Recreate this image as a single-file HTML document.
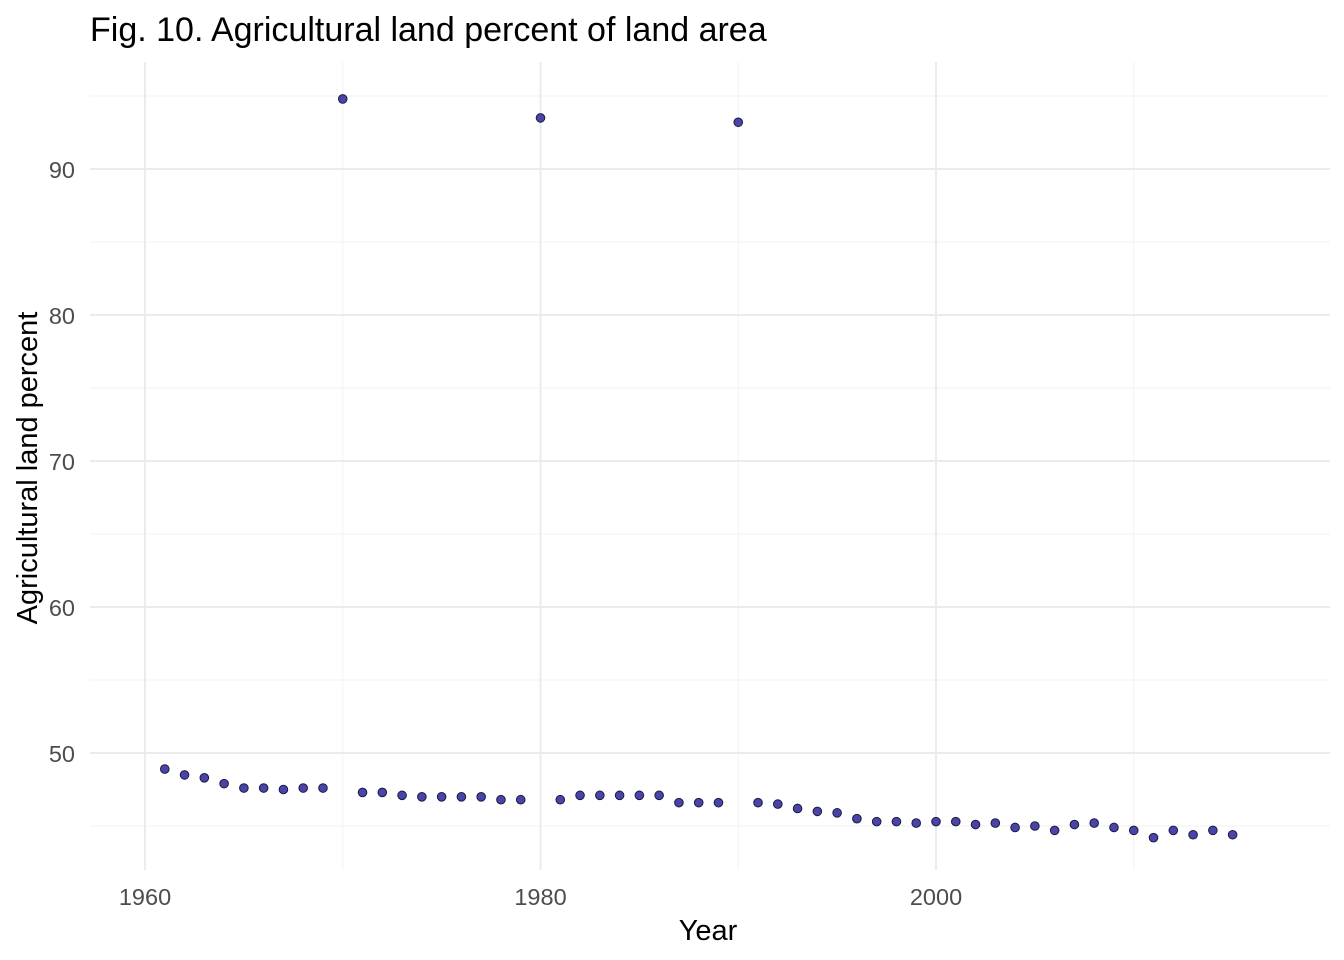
<!DOCTYPE html>
<html><head><meta charset="utf-8"><style>
body{margin:0;background:#fff;}
svg{display:block;font-family:"Liberation Sans",Arial,sans-serif;}
</style></head><body>
<svg id="chart" width="1344" height="960">
<text x="90" y="41" font-size="34" fill="#000">Fig. 10. Agricultural land percent of land area</text>
<g id="grid"></g>
<g id="ticks"></g>
<g id="points"></g>
<text x="708" y="940" font-size="29" text-anchor="middle" fill="#000">Year</text>
<text transform="translate(37,468) rotate(-90)" font-size="29" text-anchor="middle" fill="#000">Agricultural land percent</text>
</svg>
<script>
const years=[];for(let y=1961;y<=2015;y++)years.push(y);
const values=[48.9,48.5,48.3,47.9,47.6,47.6,47.5,47.6,47.6,94.8,
47.3,47.3,47.1,47.0,47.0,47.0,47.0,46.8,46.8,93.5,
46.8,47.1,47.1,47.1,47.1,47.1,46.6,46.6,46.6,93.2,
46.6,46.5,46.2,46.0,45.9,45.5,45.3,45.3,45.2,45.3,
45.3,45.1,45.2,44.9,45.0,44.7,45.1,45.2,44.9,44.7,
44.2,44.7,44.4,44.7,44.4];
const xTicks=[1960,1980,2000];
const xMinor=[1970,1990,2010];
const yTicks=[50,60,70,80,90];
const yMinor=[45,55,65,75,85,95];
const xs=v=>145+(v-1960)*(936-145)/40;
const ys=v=>753-(v-50)*(753-169)/40;
const NS="http://www.w3.org/2000/svg";
const L=90,R=1330,T=62,B=870;
function mk(tag,attrs,parent){const e=document.createElementNS(NS,tag);for(const k in attrs)e.setAttribute(k,attrs[k]);parent.appendChild(e);return e;}
const grid=document.getElementById('grid'),ticks=document.getElementById('ticks'),pts=document.getElementById('points');
yMinor.forEach(v=>{const e=mk('line',{x1:L,x2:R,y1:ys(v),y2:ys(v),stroke:'#f2f2f2','stroke-width':1},grid);

});
xMinor.forEach(v=>{const e=mk('line',{x1:xs(v),x2:xs(v),y1:T,y2:B,stroke:'#f2f2f2','stroke-width':1},grid);

});
yTicks.forEach(v=>{const e=mk('line',{x1:L,x2:R,y1:ys(v),y2:ys(v),stroke:'#ebebeb','stroke-width':2},grid);


const t=mk('text',{x:75,y:ys(v)+9,'font-size':23.5,'text-anchor':'end',fill:'#4d4d4d'},ticks);t.textContent=v;

});
xTicks.forEach(v=>{const e=mk('line',{x1:xs(v),x2:xs(v),y1:T,y2:B,stroke:'#ebebeb','stroke-width':2},grid);


const t=mk('text',{x:xs(v),y:905,'font-size':23.5,'text-anchor':'middle',fill:'#4d4d4d'},ticks);t.textContent=v;

});
years.forEach((y,i)=>{const c=mk('circle',{cx:xs(y),cy:ys(values[i]),r:4.3,fill:'#4b44a8',stroke:'#1a1a40','stroke-width':1},pts);

});
</script>
</body></html>
